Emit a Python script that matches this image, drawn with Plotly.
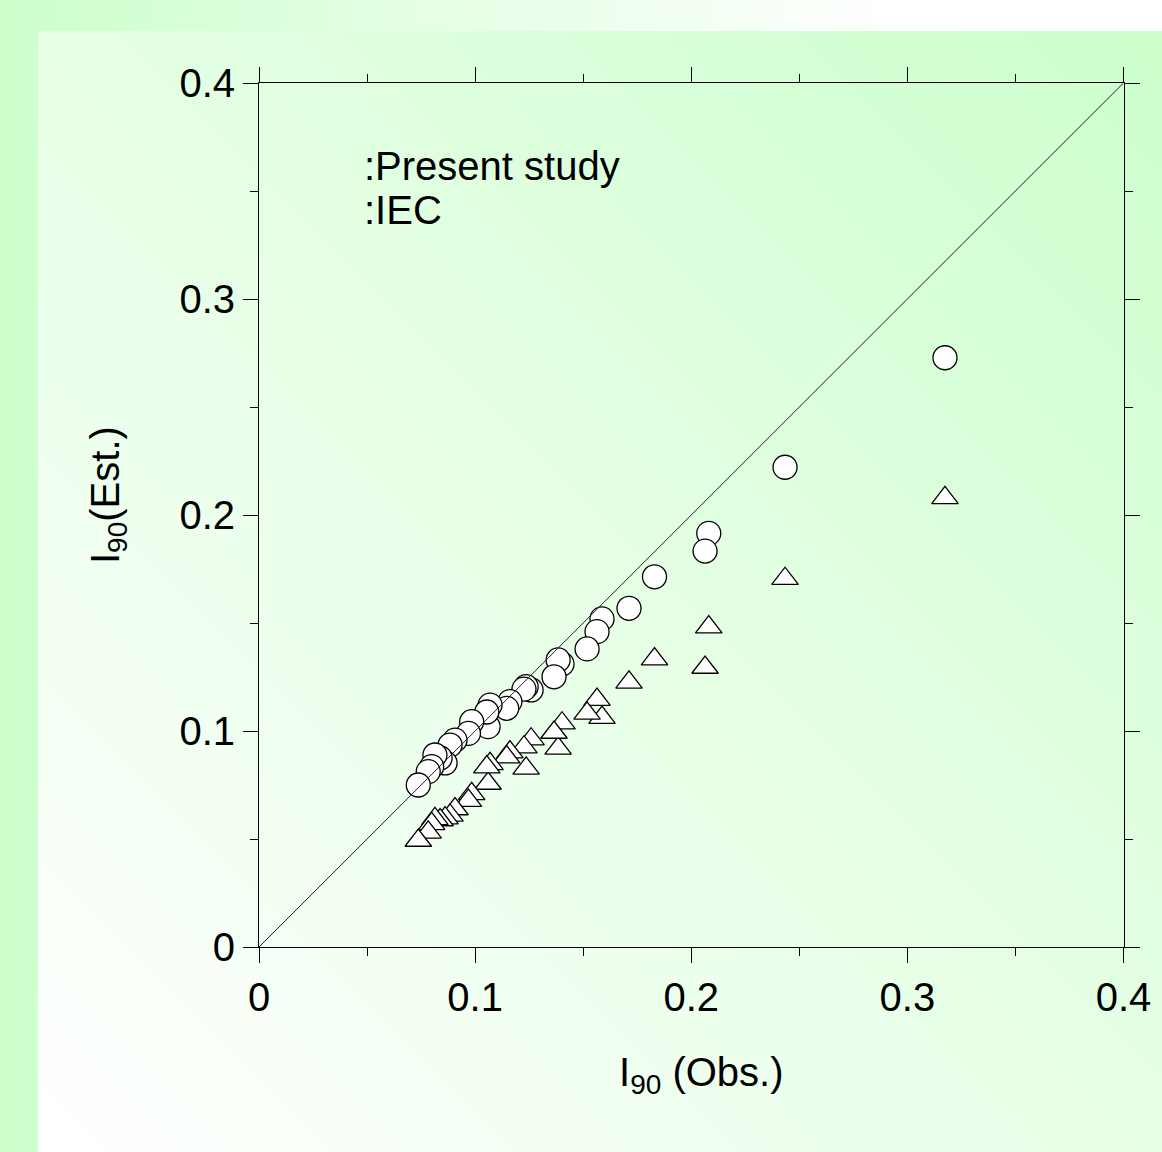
import base64
import plotly.graph_objects as go

# Observed I90 and the two estimates (Present study / IEC) for each case
i90_obs = [0.3174, 0.2434, 0.2081, 0.2064, 0.1830, 0.1712, 0.1587, 0.1564, 0.1518, 0.1402,
           0.1384, 0.1365, 0.1259, 0.1236, 0.1226, 0.1161, 0.1146, 0.1069, 0.1060, 0.1054,
           0.0984, 0.0969, 0.0907, 0.0884, 0.0861, 0.0838, 0.0814, 0.0799, 0.0783, 0.0737]
i90_present = [0.2728, 0.2221, 0.1915, 0.1833, 0.1714, 0.1568, 0.1519, 0.1460, 0.1380, 0.1310,
               0.1329, 0.1251, 0.1190, 0.1205, 0.1194, 0.1136, 0.1105, 0.1120, 0.1020, 0.1088,
               0.1043, 0.0989, 0.0958, 0.0935, 0.0852, 0.0875, 0.0889, 0.0835, 0.0812, 0.0750]
i90_iec = [0.2079, 0.1705, 0.1481, 0.1294, 0.1333, 0.1225, 0.1062, 0.1145, 0.1082, 0.1036,
           0.0920, 0.0993, 0.0962, 0.0827, 0.0925, 0.0902, 0.0879, 0.0848, 0.0757, 0.0833,
           0.0709, 0.0678, 0.0639, 0.0609, 0.0597, 0.0588, 0.0593, 0.0570, 0.0531, 0.0493]

axis_range = [0, 0.4]
tick_vals = [0, 0.1, 0.2, 0.3, 0.4]
tick_text = ["0", "0.1", "0.2", "0.3", "0.4"]

W, H = 1162, 1152
FONT = "Arial, 'Liberation Sans', sans-serif"

# Background: green-to-white frame with a diagonal gradient panel
svg = f"""<svg xmlns='http://www.w3.org/2000/svg' width='{W}' height='{H}' viewBox='0 0 {W} {H}' preserveAspectRatio='none'>
<defs>
<linearGradient id='o' gradientUnits='userSpaceOnUse' x1='0' y1='0' x2='900' y2='0'>
<stop offset='0' stop-color='#ccffcc'/><stop offset='1' stop-color='#ffffff'/></linearGradient>
<linearGradient id='i' x1='1' y1='0' x2='0' y2='1'>
<stop offset='0' stop-color='#ccffcc'/><stop offset='1' stop-color='#ffffff'/></linearGradient>
</defs>
<rect x='0' y='0' width='{W}' height='{H}' fill='url(#o)'/>
<rect x='38' y='31' width='{W - 38}' height='{H - 31}' fill='url(#i)'/>
</svg>"""
bg_uri = "data:image/svg+xml;base64," + base64.b64encode(svg.encode()).decode()

fig = go.Figure()

fig.add_trace(go.Scatter(
    x=i90_obs, y=i90_present, mode="markers", name="Present study",
    marker=dict(symbol="circle", size=24, color="white",
                line=dict(color="#000000", width=1.3)),
))
fig.add_trace(go.Scatter(
    x=i90_obs, y=i90_iec, mode="markers", name="IEC",
    marker=dict(symbol="triangle-up", size=23, color="white",
                line=dict(color="#000000", width=1.3)),
))
# 1:1 reference line
fig.add_trace(go.Scatter(
    x=axis_range, y=axis_range, mode="lines",
    line=dict(color="#222222", width=1), hoverinfo="skip",
))

axis_common = dict(
    range=axis_range, tickvals=tick_vals, ticktext=tick_text,
    ticks="outside", ticklen=15, tickwidth=1, tickcolor="#000000",
    showline=True, linecolor="#000000", linewidth=1, mirror="ticks",
    showgrid=False, zeroline=False, automargin=False,
    minor=dict(ticks="outside", ticklen=8, tickwidth=1, tickcolor="#000000", dtick=0.05, showgrid=False),
    tickfont=dict(family=FONT, size=40, color="#000000"),
)

fig.update_layout(
    template="none",
    width=W, height=H,
    margin=dict(l=0, r=0, t=0, b=0, pad=0, autoexpand=False),
    paper_bgcolor="white", plot_bgcolor="rgba(0,0,0,0)",
    showlegend=False,
    xaxis=dict(domain=[259 / W, 1123.5 / W], **axis_common),
    yaxis=dict(domain=[1 - 947 / H, 1 - 83 / H], **axis_common),
    images=[dict(source=bg_uri, xref="paper", yref="paper", x=0, y=1,
                 sizex=1, sizey=1, xanchor="left", yanchor="top",
                 sizing="stretch", layer="below")],
    annotations=[
        dict(text="I<sub>90</sub> (Obs.)", xref="paper", yref="paper",
             x=701 / W, y=1 - 1075 / H, xanchor="center", yanchor="middle",
             showarrow=False, font=dict(family=FONT, size=40, color="#000000")),
        dict(text="I<sub>90</sub>(Est.)", xref="paper", yref="paper",
             x=108 / W, y=1 - 495 / H, xanchor="center", yanchor="middle",
             textangle=-90, showarrow=False,
             font=dict(family=FONT, size=40, color="#000000")),
        dict(text=":Present study", xref="x", yref="y", x=0.0477, y=0.3616,
             xanchor="left", yanchor="middle", showarrow=False,
             font=dict(family=FONT, size=40, color="#000000")),
        dict(text=":IEC", xref="x", yref="y", x=0.0477, y=0.3412,
             xanchor="left", yanchor="middle", showarrow=False,
             font=dict(family=FONT, size=40, color="#000000")),
    ],
)

# Keep the page flush with the figure (no body margin, no scrollbars)
page_css = ("document.documentElement.style.margin='0';"
            "document.documentElement.style.overflow='hidden';"
            "document.body.style.margin='0';"
            "document.body.style.overflow='hidden';")

fig.write_html("out.html", post_script=page_css, config={"displayModeBar": False})
